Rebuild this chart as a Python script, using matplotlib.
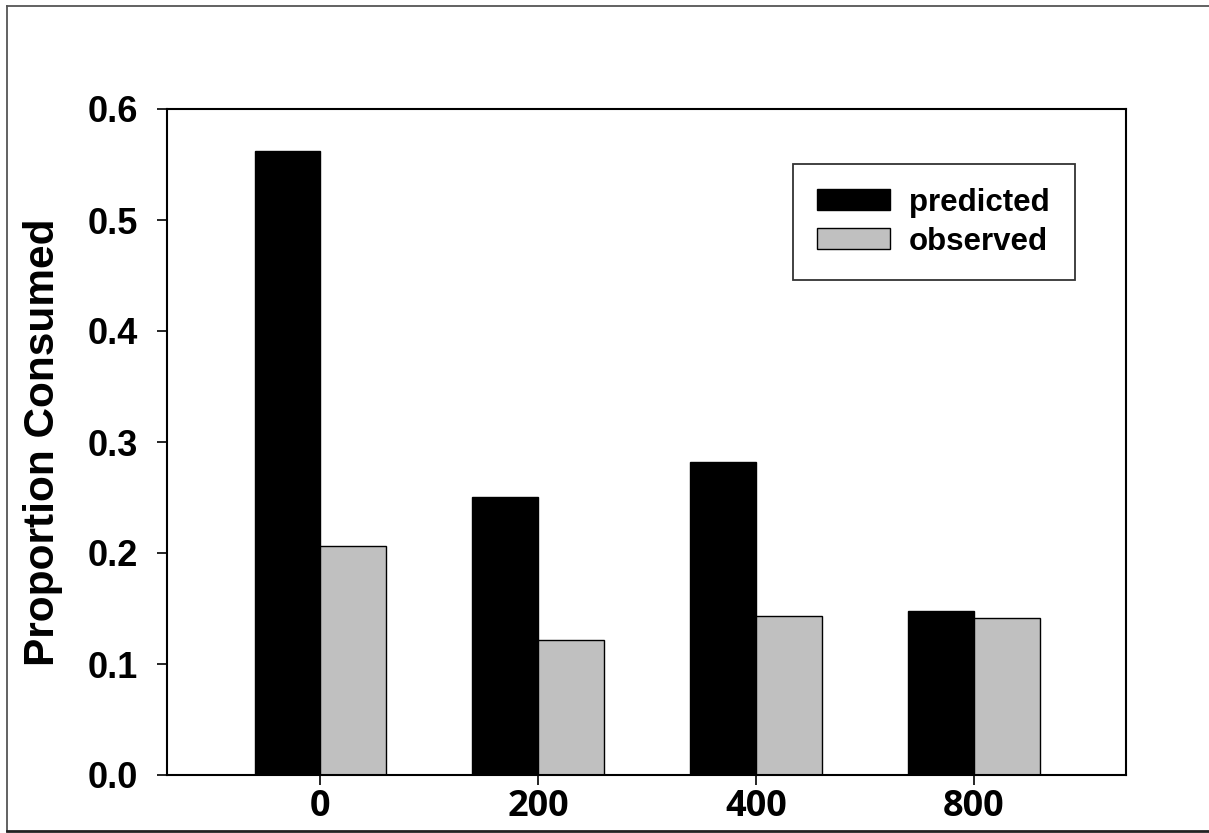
import matplotlib
matplotlib.use("Agg")
import matplotlib.pyplot as plt
from matplotlib.lines import Line2D
import numpy as np

categories = ["0", "200", "400", "800"]
predicted = [0.562, 0.2505, 0.282, 0.148]
observed = [0.206, 0.1216, 0.143, 0.1414]
yticks = [0.0, 0.1, 0.2, 0.3, 0.4, 0.5, 0.6]

W, H = 1209, 833
fig = plt.figure(figsize=(W / 100, H / 100), dpi=100)
ax = fig.add_axes([167 / W, 1 - 775 / H, (1126 - 167) / W, (775 - 109) / H])

x = np.arange(len(categories))
bw = 0.303
ax.bar(x - bw / 2, predicted, bw, color="black", edgecolor="black", linewidth=1.0, label="predicted")
ax.bar(x + bw / 2, observed, bw, color="#c0c0c0", edgecolor="black", linewidth=1.0, label="observed")

ax.set_xlim(-0.705, 3.70)
ax.set_ylim(0, 0.6)
ax.set_yticks(yticks)
ax.set_yticklabels([f"{v:.1f}" for v in yticks], fontfamily="Liberation Sans", fontweight="bold", fontsize=26)
ax.set_xticks(x)
ax.set_xticklabels(categories, fontfamily="Open Sans", fontweight="bold", fontsize=26)
ax.tick_params(axis="y", direction="out", length=7.2, width=1.2, pad=13.5)
ax.tick_params(axis="x", direction="out", length=7.2, width=1.2, pad=3)
for s in ax.spines.values():
    s.set_linewidth(1.5)

ax.set_ylabel("Proportion Consumed", fontfamily="Liberation Sans", fontweight="bold", fontsize=30.5, labelpad=18)

aw, ah = 1126 - 167, 775 - 109
lx0 = (793 - 167) / aw
lw = (1075 - 793) / aw
ltop = (775 - 164) / ah
leg = ax.legend(loc="upper left", bbox_to_anchor=(lx0, ltop - 0.2, lw, 0.2), mode="expand",
                prop={"family": "Liberation Sans", "weight": "bold", "size": 22.5},
                frameon=True, fancybox=False, edgecolor="black", handlelength=2.34, handleheight=0.64,
                labelspacing=0.28, borderpad=0.76, handletextpad=0.6, borderaxespad=0)
leg.get_frame().set_linewidth(1.3)

# outer frame of the figure
fig.add_artist(Line2D([7 / W, 7 / W], [1 - 6 / H, 1 - 831 / H], transform=fig.transFigure, color="#555555", lw=1.3))
fig.add_artist(Line2D([7 / W, 1.0], [1 - 6 / H, 1 - 6 / H], transform=fig.transFigure, color="#555555", lw=1.3))
fig.add_artist(Line2D([7 / W, 1.0], [1 - 831 / H, 1 - 831 / H], transform=fig.transFigure, color="#222222", lw=2.0))

fig.savefig("out.png", dpi=100)
